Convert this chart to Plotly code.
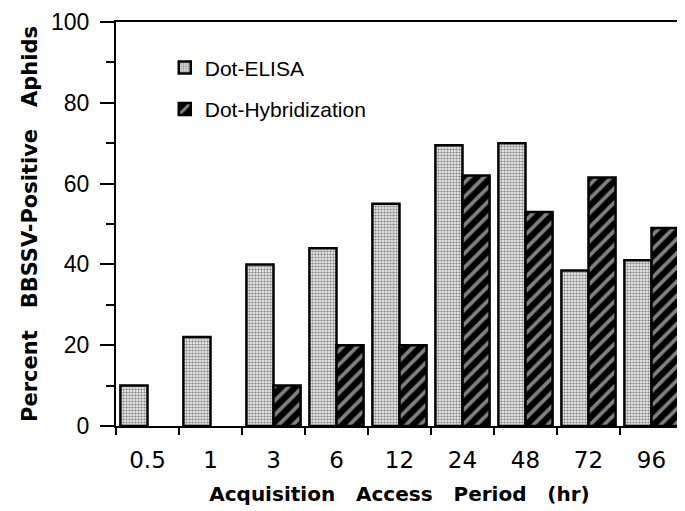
import plotly.graph_objects as go

categories = ["0.5", "1", "3", "6", "12", "24", "48", "72", "96"]
elisa = [10, 22, 40, 44, 55, 69.5, 70, 38.5, 41]
hybrid = [None, None, 10, 20, 20, 62, 53, 61.5, 49]
y_ticks = [0, 20, 40, 60, 80, 100]

fig = go.Figure()
fig.add_trace(go.Bar(
    x=categories, y=elisa, name="Dot-ELISA", legendgroup="a",
    marker=dict(color="white", line=dict(color="black", width=2.5),
                pattern=dict(shape=".", fgcolor="#222222", bgcolor="white",
                             size=3, solidity=0.55)),
))
fig.add_trace(go.Bar(
    x=categories, y=hybrid, name="Dot-Hybridization", legendgroup="b",
    marker=dict(color="black", line=dict(color="black", width=2.5),
                pattern=dict(shape="/", fgcolor="white", bgcolor="black",
                             size=10, solidity=0.38)),
))

sp = "\u00a0\u00a0\u00a0"
fig.update_layout(
    width=677, height=503,
    margin=dict(l=108, r=2, t=14, b=85),
    paper_bgcolor="white", plot_bgcolor="white",
    barmode="group", bargap=0.14, bargroupgap=0,
    font=dict(family="Liberation Sans, Arial, sans-serif", color="black"),
    showlegend=True,
    legend=dict(x=0.086, y=0.937, xanchor="left", yanchor="top",
                font=dict(size=21, family="Liberation Sans, Arial, sans-serif"),
                bgcolor="rgba(0,0,0,0)", tracegroupgap=11),
    xaxis=dict(
        type="category", tickson="boundaries", ticks="outside", ticklen=7,
        tickwidth=2, tickcolor="black", showline=True, linecolor="black",
        linewidth=2, mirror=True, showgrid=False, automargin=False,
        tickfont=dict(size=23, family="DejaVu Sans"), ticklabelstandoff=12,
        title=dict(text="Acquisition" + sp + "Access" + sp + "Period" + sp + "(hr)",
                   font=dict(family="DejaVu Sans", size=20, weight="bold"),
                   standoff=15),
    ),
    yaxis=dict(
        range=[0, 100], tickvals=y_ticks, ticks="outside", ticklen=14,
        tickwidth=2, tickcolor="black", showline=True, linecolor="black",
        linewidth=2, mirror=True, showgrid=False, zeroline=False,
        automargin=False,
        tickfont=dict(size=23), ticklabelstandoff=6,
        minor=dict(dtick=10, ticks="outside", ticklen=8, tickwidth=2,
                   tickcolor="black", showgrid=False),
        title=dict(text="Percent" + sp + "BBSSV-Positive" + sp + "Aphids",
                   font=dict(family="DejaVu Sans", size=21, weight="bold"),
                   standoff=8),
    ),
)

fig.write_html("out.html")
